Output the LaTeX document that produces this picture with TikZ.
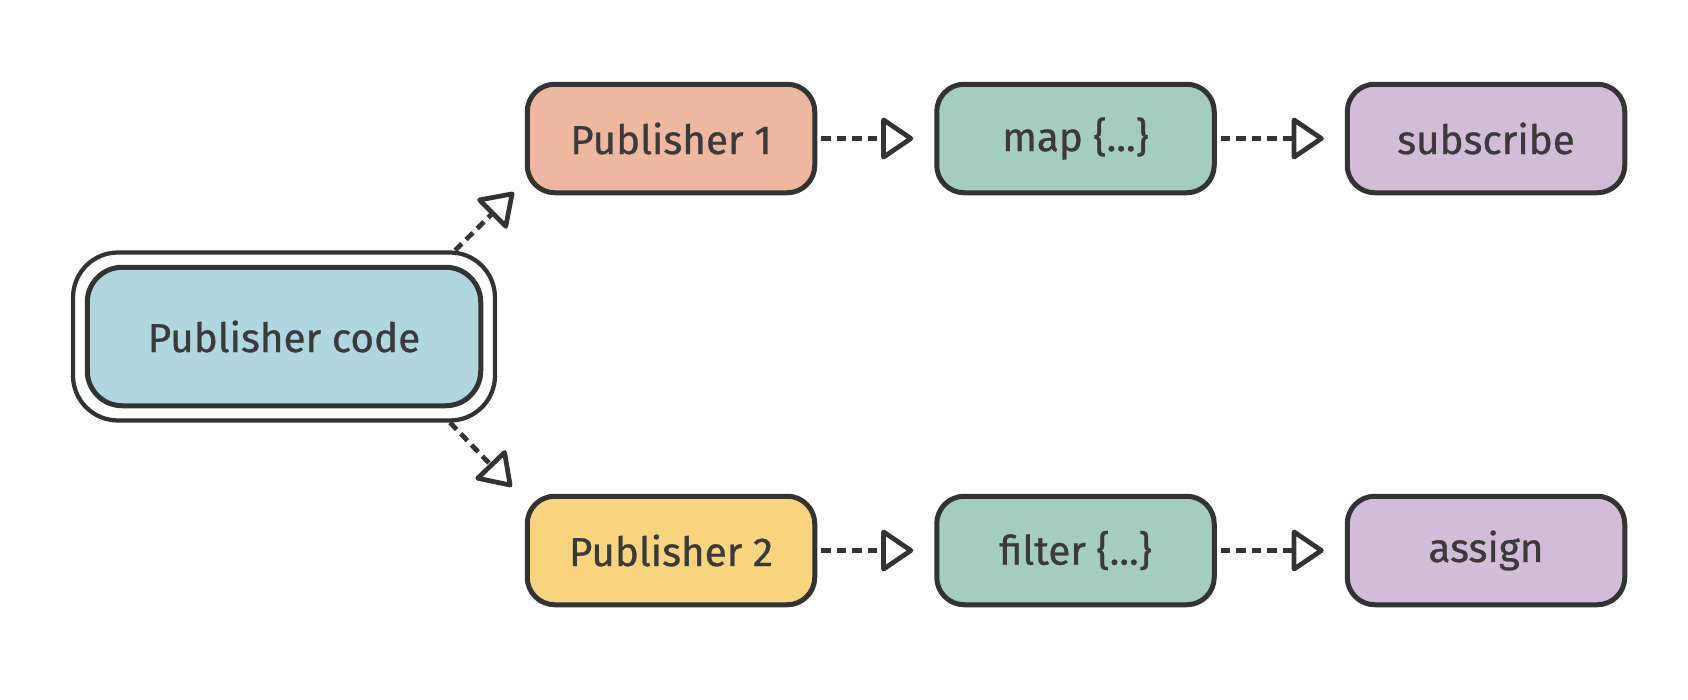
\documentclass[tikz,border=0pt]{standalone}
\usepackage{fontspec}
\setmainfont{Fira Sans}[FakeBold=0.7]
\usetikzlibrary{arrows.meta}
\definecolor{codeblue}{HTML}{B0D7E0}
\definecolor{pubsalmon}{HTML}{EEB79F}
\definecolor{pubyellow}{HTML}{F8D47E}
\definecolor{opgreen}{HTML}{A4CDC0}
\definecolor{sinkpurple}{HTML}{D2BDD8}
\definecolor{inkgray}{HTML}{333333}
\definecolor{textgray}{HTML}{3A3A3A}

\begin{document}
\begin{tikzpicture}[roundbox/.style={rectangle, rounded corners=0.55cm, draw=inkgray, line width=0.1cm, text=textgray, font=\fontsize{23}{27}\selectfont, minimum height=2.17cm}, flow/.style={draw=inkgray, line width=0.095cm, dash pattern=on 0.19cm off 0.12cm, -{Triangle[open, round, length=0.68cm, width=0.9cm]}, shorten >=0.42cm, shorten <=0.08cm}]
\useasboundingbox (0,0) rectangle (33.76,-14);
%\fill[white] (0,0) rectangle (33.76,-14);
\node[roundbox, fill=codeblue, minimum width=7.87cm, minimum height=2.77cm, rounded corners=0.7cm] at (5.68,-6.73) (code) {Publisher code};
\node[rectangle, rounded corners=0.9cm, draw=inkgray, line width=0.085cm, minimum width=8.44cm, minimum height=3.36cm] at (code.center) (codeframe) {};
\node[roundbox, fill=pubsalmon, minimum width=5.75cm] at (13.42,-2.77) (pub1) {Publisher 1};
\node[roundbox, fill=opgreen, minimum width=5.55cm] at (21.51,-2.77) (map) {map \{...\}};
\node[roundbox, fill=sinkpurple, minimum width=5.55cm] at (29.72,-2.77) (subscribe) {subscribe};
\node[roundbox, fill=pubyellow, minimum width=5.75cm] at (13.42,-11.01) (pub2) {Publisher 2};
\node[roundbox, fill=opgreen, minimum width=5.55cm] at (21.51,-11.01) (filter) {filter \{...\}};
\node[roundbox, fill=sinkpurple, minimum width=5.55cm] at (29.72,-11.01) (assign) {assign};
\draw[flow, shorten >=0pt, shorten <=0pt] ([xshift=-0.84cm]codeframe.north east) -- ([shift={(-0.22cm,0.06cm)}]pub1.south west);
\draw[flow, shorten >=0pt, shorten <=0pt] ([xshift=-0.94cm]codeframe.south east) -- ([shift={(-0.26cm,0.14cm)}]pub2.north west);
\draw[flow] (pub1) -- (map);
\draw[flow] (map) -- (subscribe);
\draw[flow] (pub2) -- (filter);
\draw[flow] (filter) -- (assign);
\end{tikzpicture}
\end{document}
